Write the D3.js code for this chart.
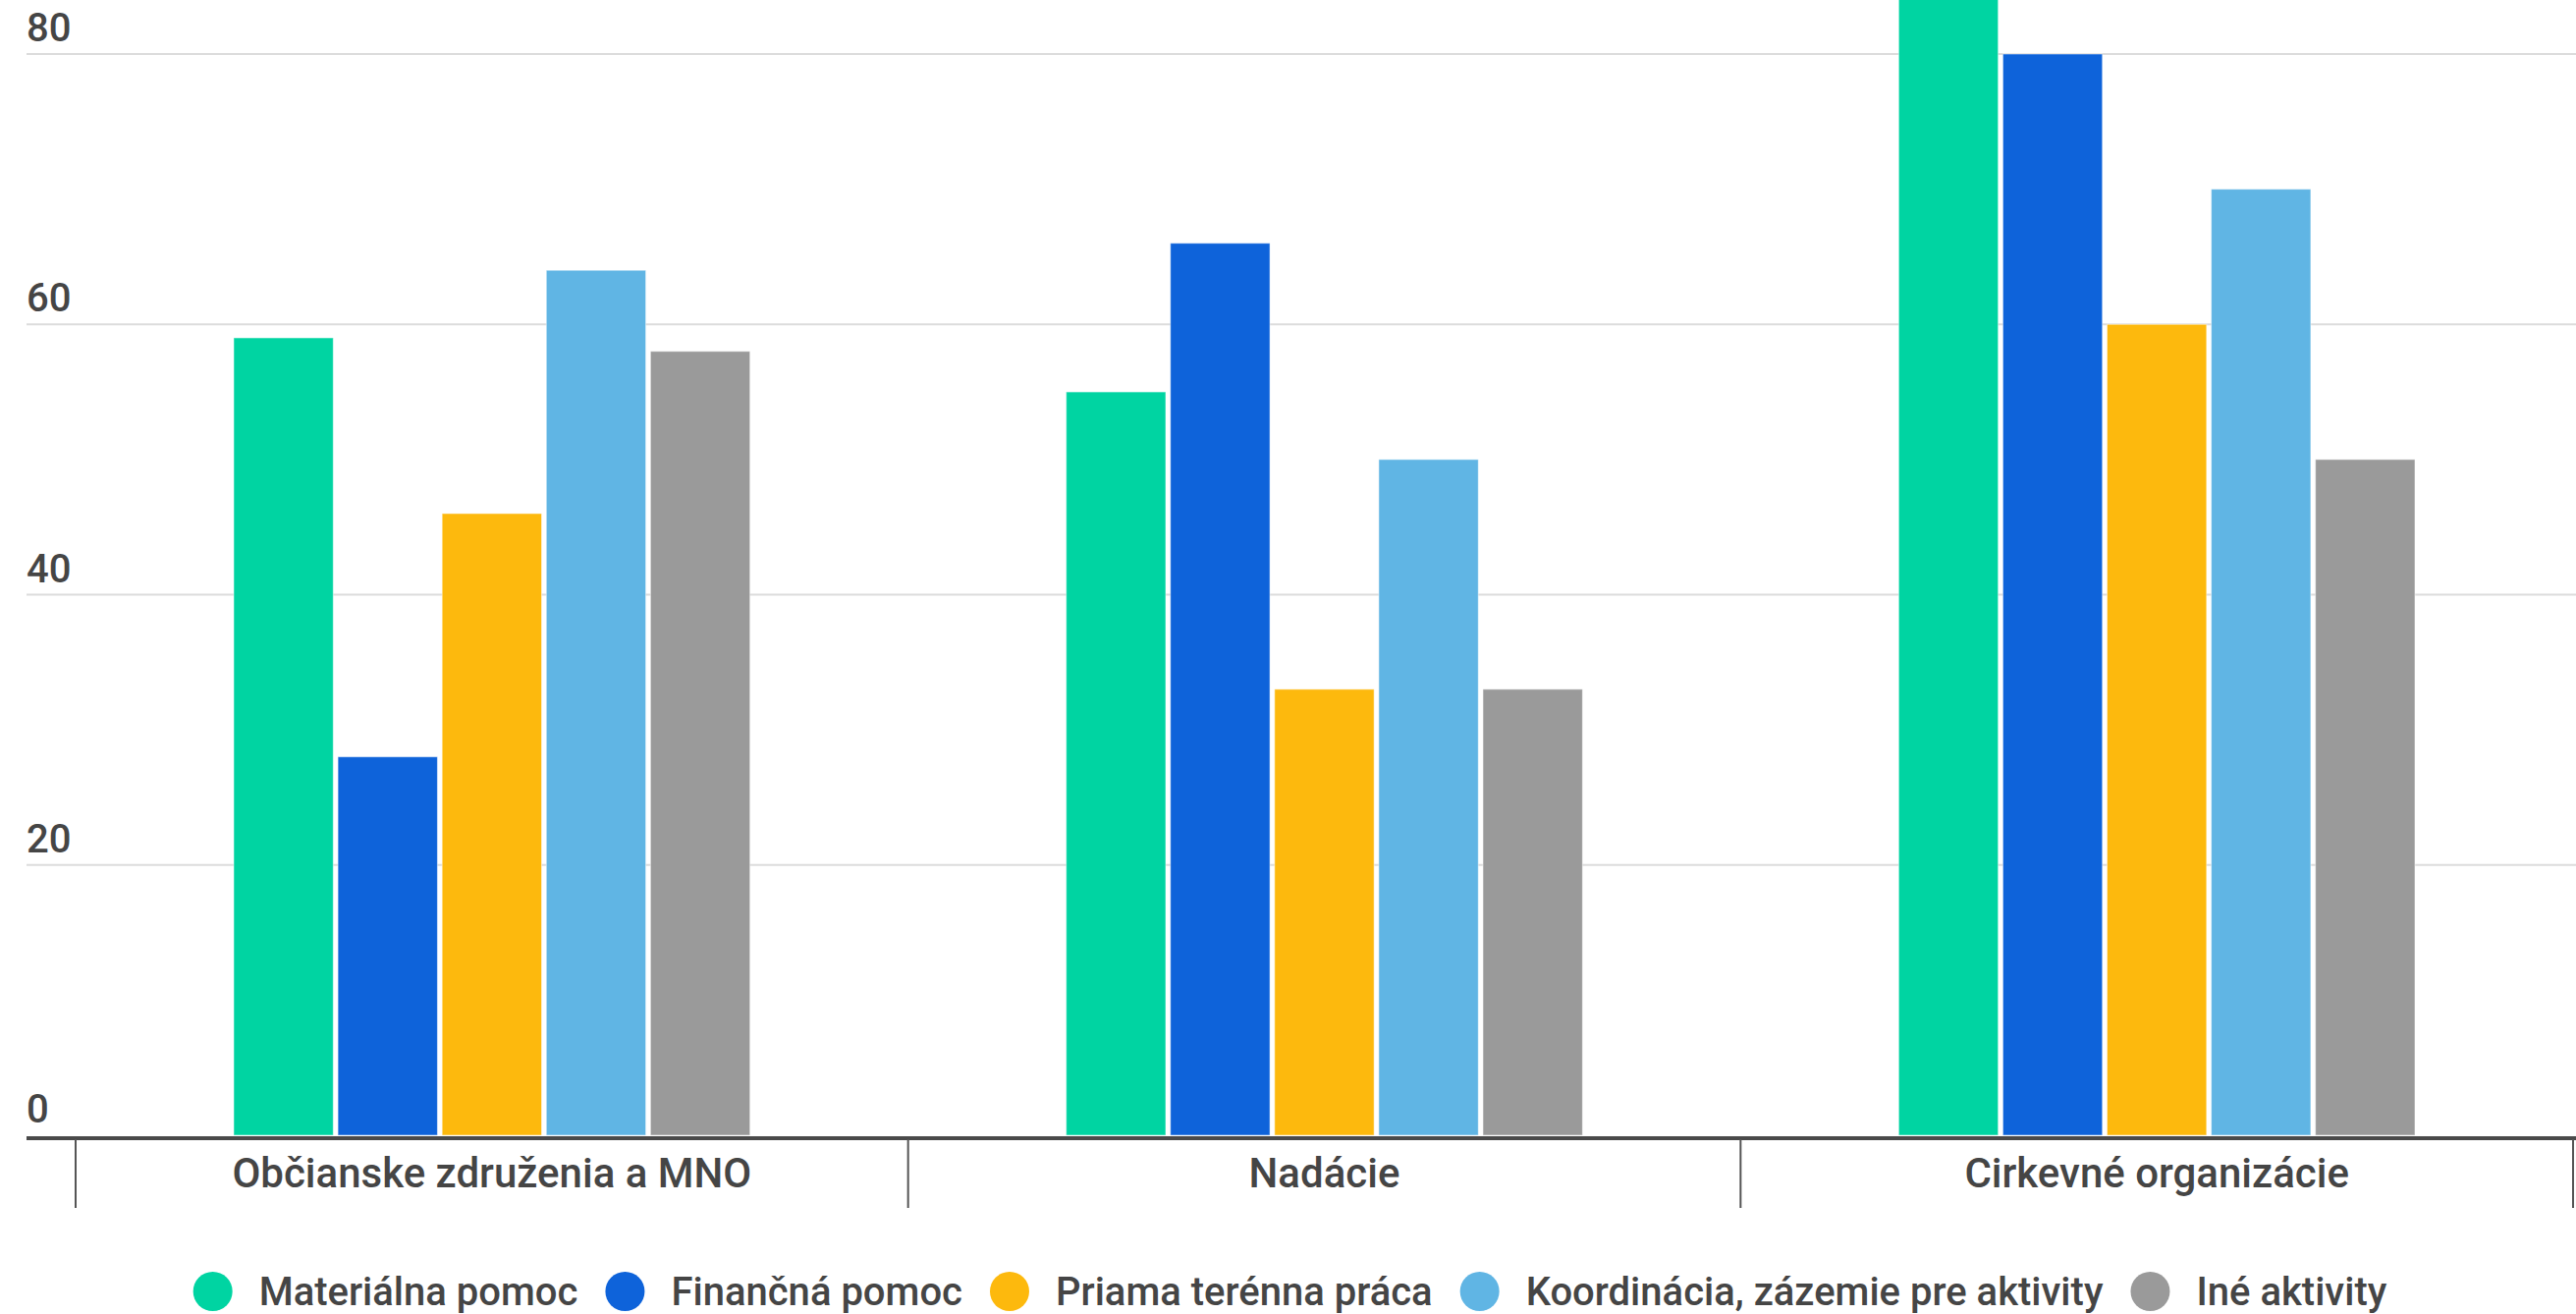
<!DOCTYPE html>
<html>
<head>
<meta charset="utf-8">
<script src="https://cdn.jsdelivr.net/npm/d3@7"></script>
<style>
  html, body { margin: 0; padding: 0; background: #fff; }
  svg { display: block; font-family: Roboto, "Noto Sans", sans-serif; font-weight: 500; }
</style>
</head>
<body>
<svg id="chart" width="2623" height="1338"></svg>
<script>
const categories = ["Občianske združenia a MNO", "Nadácie", "Cirkevné organizácie"];
const seriesNames = ["Materiálna pomoc", "Finančná pomoc", "Priama terénna práca", "Koordinácia, zázemie pre aktivity", "Iné aktivity"];
const seriesColors = ["#00D4A2", "#0E63DA", "#FDB90D", "#60B5E4", "#9A9A9A"];
const materialna = [59, 55, 88];
const financna   = [28, 66, 80];
const priama     = [46, 33, 60];
const koordinacia = [64, 50, 70];
const ine        = [58, 33, 50];
const yTicks = [0, 20, 40, 60, 80];

const seriesValues = [materialna, financna, priama, koordinacia, ine];

const W = 2623, H = 1338;
const svg = d3.select("#chart");

const plotLeft = 77, plotRight = 2620;
const y = d3.scaleLinear().domain([0, 80]).range([1156, 55]);
const x0 = d3.scaleBand().domain(categories).range([plotLeft, plotRight]).padding(0);
const groupPad = 161;
const x1 = d3.scaleBand().domain(seriesNames)
  .range([groupPad, x0.bandwidth() - groupPad]).paddingInner(0.045);

// gridlines
svg.append("g").selectAll("line").data(yTicks.filter(d => d > 0)).join("line")
  .attr("x1", 27).attr("x2", W)
  .attr("y1", d => y(d)).attr("y2", d => y(d))
  .attr("stroke", "#dcdcdc").attr("stroke-width", 2);

// y labels
svg.append("g").selectAll("text").data(yTicks).join("text")
  .attr("x", 27).attr("y", d => y(d) - 13)
  .attr("font-size", 40).attr("fill", "#454545")
  .text(d => d);

// bars
const groups = svg.append("g").selectAll("g").data(categories).join("g")
  .attr("transform", c => `translate(${x0(c)},0)`);
groups.selectAll("rect")
  .data((c, ci) => seriesNames.map((s, si) => ({ s, si, v: seriesValues[si][ci] })))
  .join("rect")
  .attr("x", d => x1(d.s))
  .attr("width", x1.bandwidth())
  .attr("y", d => y(d.v))
  .attr("height", d => y(0) - y(d.v))
  .attr("fill", d => seriesColors[d.si])
  .attr("stroke", "rgba(255,255,255,0.5)").attr("stroke-width", 1);

// x axis line
svg.append("line").attr("x1", 27).attr("x2", W)
  .attr("y1", y(0) + 3).attr("y2", y(0) + 3)
  .attr("stroke", "#4a4a4a").attr("stroke-width", 4);

// category separators
const seps = categories.map(c => x0(c)).concat([x0(categories[categories.length - 1]) + x0.bandwidth()]);
svg.append("g").selectAll("line").data(seps).join("line")
  .attr("x1", d => d).attr("x2", d => d)
  .attr("y1", y(0) + 4).attr("y2", 1230)
  .attr("stroke", "#555").attr("stroke-width", 2);

// category labels
svg.append("g").selectAll("text").data(categories).join("text")
  .attr("x", c => x0(c) + x0.bandwidth() / 2).attr("y", 1209)
  .attr("text-anchor", "middle")
  .attr("font-size", 42).attr("fill", "#454545")
  .text(c => c);

// legend
const legend = svg.append("g");
const r = 20, gapText = 27, gapItem = 28;
let cx = 0;
seriesNames.forEach((name, i) => {
  const g = legend.append("g");
  g.append("circle").attr("cx", r).attr("cy", 0).attr("r", r).attr("fill", seriesColors[i]);
  const t = g.append("text").attr("x", 2 * r + gapText).attr("y", 14)
    .attr("font-size", 40).attr("fill", "#454545").text(name);
  const w = 2 * r + gapText + t.node().getComputedTextLength();
  g.attr("transform", `translate(${cx},0)`);
  cx += w + gapItem;
});
const totalW = cx - gapItem;
legend.attr("transform", `translate(${(W - totalW) / 2 + 2},1315)`);
</script>
</body>
</html>
